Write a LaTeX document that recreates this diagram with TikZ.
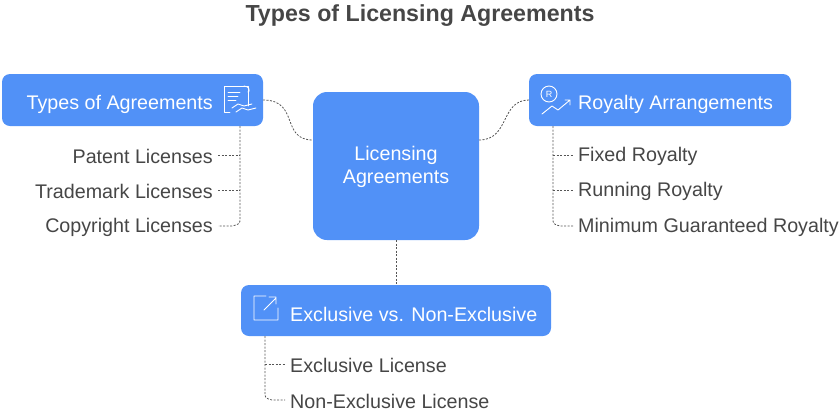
\documentclass[tikz,border=0pt]{standalone}
\usepackage{fontspec}
\setmainfont{Liberation Sans}
\usetikzlibrary{calc}
\definecolor{bx}{HTML}{5191F7}
\definecolor{tx}{HTML}{464646}
\definecolor{ln}{HTML}{555555}
\begin{document}
\begin{tikzpicture}[x=1pt,y=-1pt,
  box/.style={fill=bx,rounded corners=8pt,draw=none},
  lbl/.style={text=tx,font=\fontsize{19.7}{23}\selectfont,inner sep=0pt},
  wl/.style={text=white,font=\fontsize{19.7}{23}\selectfont,inner sep=0pt},
  con/.style={draw=ln,dash pattern=on 2pt off 1.5pt,line width=0.8pt},
  ic/.style={draw=white,line width=0.9pt,line cap=round,line join=round}]
\useasboundingbox (0,0) rectangle (840,413);
\node[text=tx,font=\bfseries\fontsize{23.2}{26}\selectfont] (title) at (420,16) {Types of Licensing Agreements};
% boxes
\path[box] (2,74) rectangle (263,126);
\coordinate (L) at (263,100);
\path[box,rounded corners=14pt] (313,92) rectangle (479,240);
\coordinate (CL) at (313,140); \coordinate (CR) at (479,140); \coordinate (CB) at (396,240);
\path[box] (529,74) rectangle (791,126);
\coordinate (R) at (529,100);
\path[box] (241,285) rectangle (551,336);
\coordinate (B) at (396,285);
\node[wl,anchor=east] (lt) at (213,104) {Types of Agreements};
\node[wl,align=center] (ct) at (396,167) {Licensing\\Agreements};
\node[wl,anchor=west] (rt) at (578,104) {Royalty Arrangements};
\node[wl,anchor=west] (bt) at (290,314) {Exclusive vs. Non-Exclusive};
% icons
\draw[ic] (230,112) -- (224,112) -- (224,86) -- (248,86) -- (248,106);
\draw[ic] (244,86) .. controls (250,86) and (250,92) .. (248,92);
\draw[ic] (228,92)--(240,92) (228,96)--(238,96) (228,100)--(236,100);
\draw[ic] (232,108)--(238,104)--(244,106)--(252,104) (236,112)--(242,108)--(248,110)--(256,108);
\draw[ic] (549,94) circle (8);
\node[text=white,font=\fontsize{9}{9}\selectfont] (ri) at (549,94) {R};
\draw[ic] (542,114)--(552,106)--(558,110)--(570,100) (565,100)--(570,100)--(570,105);
\draw[ic] (266,296)--(254,296)--(254,320)--(278,320)--(278,308) (264,310)--(276,298) (269,297)--(276,297)--(276,304);
% main connectors
\draw[con] (L) .. controls (300,100) and (280,140) .. (CL);
\draw[con] (CR) .. controls (510,140) and (500,100) .. (R);
\draw[con] (CB) -- (B);
% left list
\node[lbl,anchor=east] (l1) at (213,156) {Patent Licenses};
\node[lbl,anchor=east] (l2) at (213,191) {Trademark Licenses};
\node[lbl,anchor=east] (l3) at (213,227) {Copyright Licenses};
\draw[con] (240,126) -- (240,218) .. controls (240,224) .. (232,226) -- (218,226);
\draw[con] (218,155) -- (240,155);
\draw[con] (218,190) -- (240,190);
% right list
\node[lbl,anchor=west] (r1) at (578,156) {Fixed Royalty};
\node[lbl,anchor=west] (r2) at (578,191) {Running Royalty};
\node[lbl,anchor=west] (r3) at (578,227) {Minimum Guaranteed Royalty};
\draw[con] (553,126) -- (553,218) .. controls (553,224) .. (560,226) -- (573,226);
\draw[con] (553,155) -- (573,155);
\draw[con] (553,190) -- (573,190);
% bottom list
\node[lbl,anchor=west] (b1) at (290,365) {Exclusive License};
\node[lbl,anchor=west] (b2) at (290,401) {Non-Exclusive License};
\draw[con] (265,336) -- (265,392) .. controls (265,398) .. (272,400) -- (285,400);
\draw[con] (265,364) -- (285,364);
\end{tikzpicture}
\end{document}
